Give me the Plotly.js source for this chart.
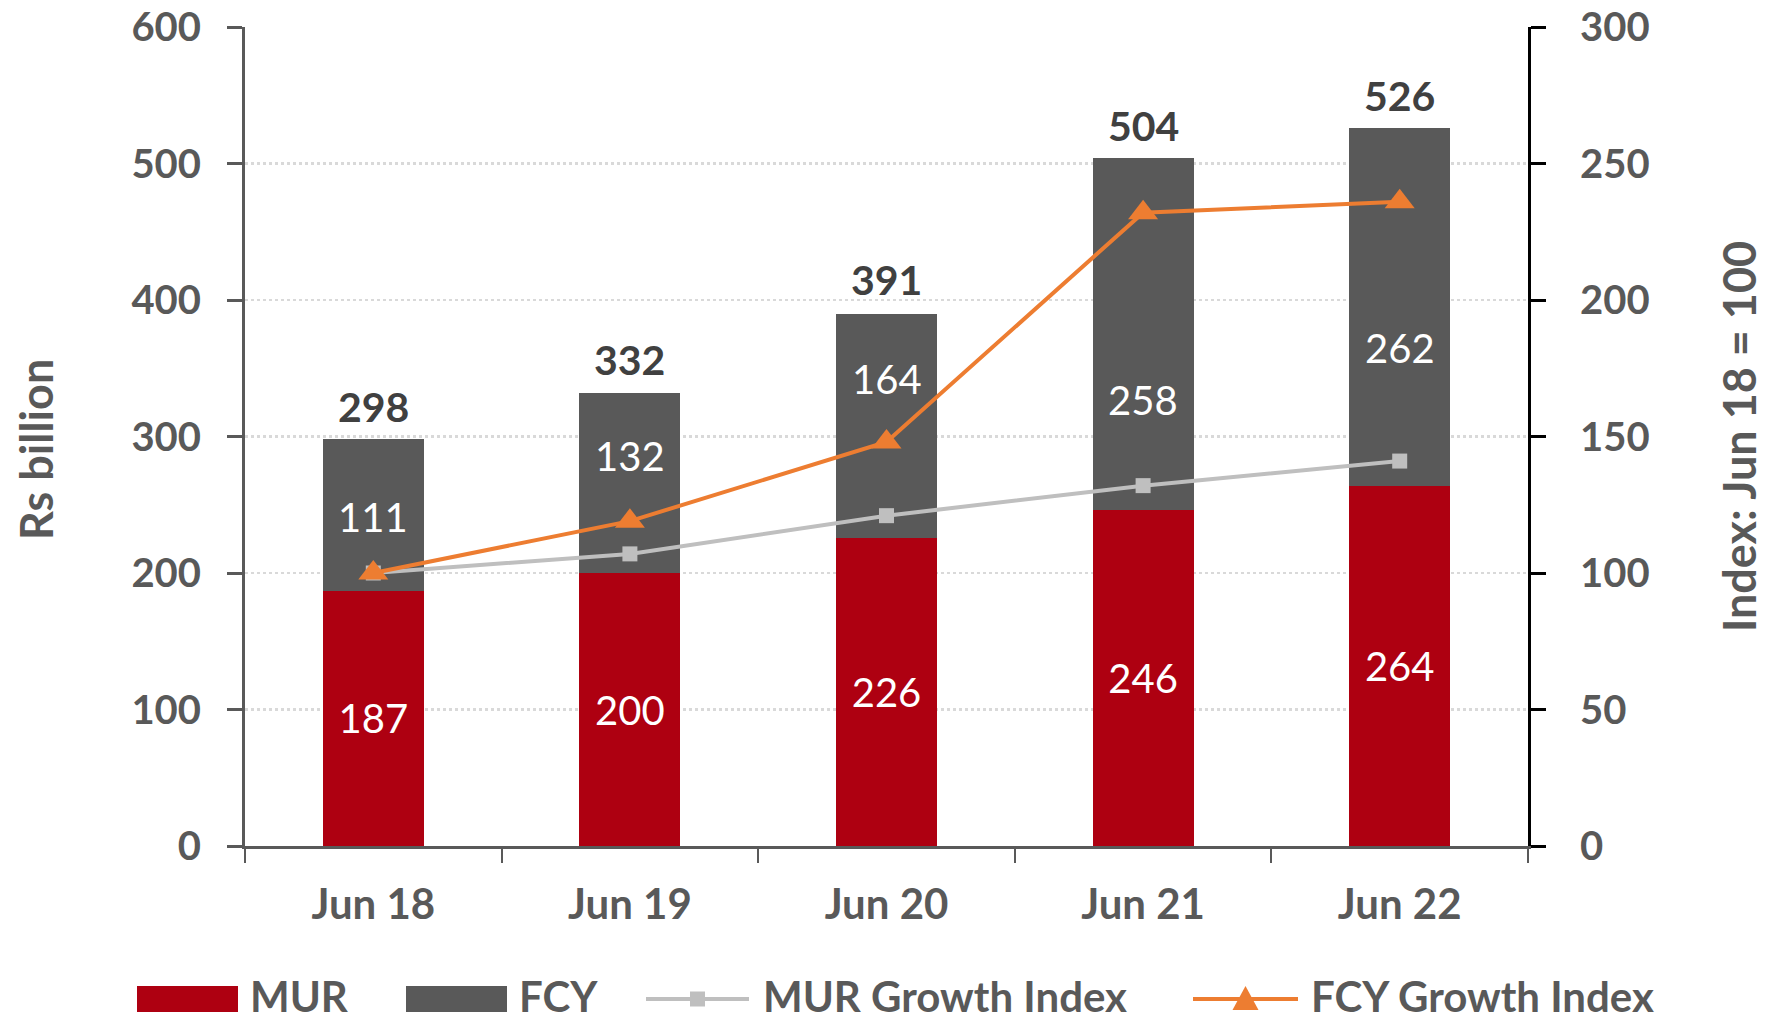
<!DOCTYPE html>
<html><head><meta charset="utf-8">
<script src="https://cdn.plot.ly/plotly-3.0.1.min.js"></script>
<style>html,body{margin:0;padding:0;background:#fff}#chart{width:1766px;height:1020px}</style>
</head><body><div id="chart"></div>
<script>
// ---- data ----
const categories = ['Jun 18', 'Jun 19', 'Jun 20', 'Jun 21', 'Jun 22'];
const murValues = [187, 200, 226, 246, 264];
const fcyValues = [111, 132, 164, 258, 262];
const totalValues = [298, 332, 391, 504, 526];
const murIndex = [100, 107, 121, 132, 141];
const fcyIndex = [100, 119, 148, 232, 236];
const leftTicks = [0, 100, 200, 300, 400, 500, 600];
const rightTicks = [0, 50, 100, 150, 200, 250, 300];
const seriesNames = ['MUR', 'FCY', 'MUR Growth Index', 'FCY Growth Index'];
const leftTitle = 'Rs billion';
const rightTitle = 'Index: Jun 18 = 100';

// ---- label placement (pixel nudges of the FCY labels from their bar centre) ----
const fcyLabelNudge = [-2, 27, 47, -66, -41];

// ---- styles ----
const CAL = 'Lato, Carlito, Calibri, sans-serif';
const GREY = '#595959';
const RED = '#AE0011';
const LIGHT = '#BFBFBF';
const ORANGE = '#ED7D31';

const W = 1766, H = 1020, ML = 245, MR = 238, MT = 27, MB = 174;
const PW = W - ML - MR, PH = H - MT - MB;
const px = x => (x - ML) / PW;
const py = y => (MT + PH - y) / PH;

const traces = [
  {type: 'bar', name: seriesNames[0], x: categories, y: murValues,
   marker: {color: RED}, text: murValues.map(String), textposition: 'inside',
   insidetextanchor: 'middle', textangle: 0, constraintext: 'none',
   textfont: {family: CAL, size: 40, color: '#ffffff'}, hoverinfo: 'skip'},
  {type: 'bar', name: seriesNames[1], x: categories, y: fcyValues,
   marker: {color: GREY}, textposition: 'none', hoverinfo: 'skip'},
  {type: 'scatter', mode: 'lines+markers', name: seriesNames[2], x: categories, y: murIndex,
   yaxis: 'y2', line: {color: LIGHT, width: 4},
   marker: {symbol: 'square', size: 15, color: LIGHT}, hoverinfo: 'skip'},
  {type: 'scatter', mode: 'lines+markers', name: seriesNames[3], x: categories, y: fcyIndex,
   yaxis: 'y2', line: {color: ORANGE, width: 4},
   marker: {symbol: 'triangle-up', size: 26, color: ORANGE}, hoverinfo: 'skip'}
];

// totals above the stacks
const annotations = categories.map((c, i) => ({
  x: c, y: totalValues[i], xref: 'x', yref: 'y', text: String(totalValues[i]),
  showarrow: false, yanchor: 'middle', yshift: 33,
  font: {family: CAL, size: 41, color: '#404040', weight: 'bold'}
}));
// FCY segment labels
categories.forEach((c, i) => {
  annotations.push({
    x: c, y: murValues[i] + fcyValues[i] / 2, xref: 'x', yref: 'y', text: String(fcyValues[i]),
    showarrow: false, yanchor: 'middle', yshift: fcyLabelNudge[i],
    font: {family: CAL, size: 40, color: '#ffffff'}
  });
});
// left axis title
annotations.push({xref: 'paper', yref: 'paper', x: px(36), y: py(450), xanchor: 'center',
  yanchor: 'middle', textangle: -90, showarrow: false, text: leftTitle,
  font: {family: CAL, size: 45, color: GREY, weight: 'bold'}});

// custom legend
const legendItems = [
  {kind: 'bar', color: RED, x0: 137, x1: 238, tx: 248},
  {kind: 'bar', color: GREY, x0: 406, x1: 507, tx: 517},
  {kind: 'line', color: LIGHT, x0: 646, x1: 749, tx: 761, sym: 'square'},
  {kind: 'line', color: ORANGE, x0: 1193, x1: 1298, tx: 1309, sym: 'triangle'}
];
const LY = 999, LTY = 996;
const shapes = [];
legendItems.forEach((it, i) => {
  if (it.kind === 'bar') {
    shapes.push({type: 'rect', xref: 'paper', yref: 'paper', x0: px(it.x0), x1: px(it.x1),
      y0: py(LY + 13), y1: py(LY - 13), fillcolor: it.color, line: {width: 0}});
  } else {
    shapes.push({type: 'line', xref: 'paper', yref: 'paper', x0: px(it.x0), x1: px(it.x1),
      y0: py(LY), y1: py(LY), line: {color: it.color, width: 4}});
    const cx = px((it.x0 + it.x1) / 2);
    if (it.sym === 'square') {
      shapes.push({type: 'rect', xref: 'paper', yref: 'paper', xsizemode: 'pixel', ysizemode: 'pixel',
        xanchor: cx, yanchor: py(LY), x0: -7.5, x1: 7.5, y0: -7.5, y1: 7.5,
        fillcolor: it.color, line: {width: 0}});
    } else {
      shapes.push({type: 'path', xref: 'paper', yref: 'paper', xsizemode: 'pixel', ysizemode: 'pixel',
        xanchor: cx, yanchor: py(LY), path: 'M-13,-11L13,-11L0,13Z',
        fillcolor: it.color, line: {width: 0}});
    }
  }
  annotations.push({xref: 'paper', yref: 'paper', x: px(it.tx), y: py(LTY), xanchor: 'left',
    yanchor: 'middle', showarrow: false, text: seriesNames[i],
    font: {family: CAL, size: 42, color: GREY, weight: 'bold'}});
});

const layout = {
  width: W, height: H,
  margin: {l: ML, r: MR, t: MT, b: MB, pad: 0},
  paper_bgcolor: '#ffffff', plot_bgcolor: '#ffffff',
  barmode: 'stack', bargap: 0.606,
  showlegend: false,
  font: {family: CAL, color: GREY},
  xaxis: {
    type: 'category', showline: true, linecolor: GREY, linewidth: 3,
    ticks: 'outside', tickson: 'boundaries', ticklen: 14, tickwidth: 2, tickcolor: GREY,
    tickfont: {family: CAL, size: 42, color: GREY, weight: 'bold'},
    ticklabelstandoff: 20, showgrid: false, zeroline: false
  },
  yaxis: {
    range: [0, 600], tickvals: leftTicks, ticktext: leftTicks.map(String),
    showline: true, linecolor: GREY, linewidth: 3,
    ticks: 'outside', ticklen: 15, tickwidth: 3, tickcolor: GREY,
    tickfont: {family: CAL, size: 40, color: GREY, weight: 'bold'},
    ticklabelstandoff: 18, ticklabeloverflow: 'allow',
    showgrid: true, gridcolor: '#D9D9D9', griddash: 'dot', gridwidth: 2.5, zeroline: false
  },
  yaxis2: {
    overlaying: 'y', side: 'right', range: [0, 300],
    tickvals: rightTicks, ticktext: rightTicks.map(String),
    showline: true, linecolor: '#000000', linewidth: 3,
    ticks: 'outside', ticklen: 15, tickwidth: 3, tickcolor: '#000000',
    tickfont: {family: CAL, size: 40, color: GREY, weight: 'bold'},
    ticklabelstandoff: 26, ticklabeloverflow: 'allow',
    showgrid: false, zeroline: false,
    title: {text: rightTitle, standoff: 80,
            font: {family: CAL, size: 45, color: GREY, weight: 'bold'}}
  },
  annotations: annotations,
  shapes: shapes
};

Plotly.newPlot('chart', traces, layout, {displayModeBar: false, staticPlot: true});
</script>
</body></html>
